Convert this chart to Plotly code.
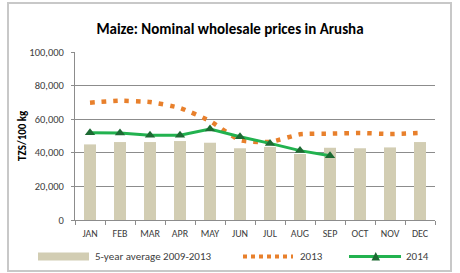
import plotly.graph_objects as go

months = ["JAN", "FEB", "MAR", "APR", "MAY", "JUN", "JUL", "AUG", "SEP", "OCT", "NOV", "DEC"]
avg_5yr = [45000, 46400, 46400, 47000, 46000, 42700, 43500, 39300, 43000, 42700, 43200, 46400]
p2013 = [69800, 71000, 70200, 66700, 58900, 47500, 46500, 51000, 51400, 51800, 51200, 51800]
p2014 = [52000, 51800, 50400, 50400, 54200, 49600, 45600, 41300, 38300]

FONT = "Carlito, Lato, sans-serif"
TXT = "#404040"
GRID = "#8c8c8c"

fig = go.Figure()
fig.add_trace(go.Bar(x=months, y=avg_5yr, width=0.4, marker=dict(color="#d2cdb3", line=dict(width=0)),
                     name="5-year average 2009-2013"))
fig.add_trace(go.Scatter(x=months, y=p2013, mode="lines", name="2013",
                         line=dict(color="#e8802c", width=4.5, dash="4.5px,7px", shape="spline", smoothing=0.5)))
fig.add_trace(go.Scatter(x=months[:len(p2014)], y=p2014, mode="lines+markers", name="2014",
                         line=dict(color="#22b24f", width=3),
                         marker=dict(symbol="triangle-up", size=9, color="#1d6a33")))

L, R, T, B = 75, 25, 52, 53
W, H = 460, 273
pw, ph = W - L - R, H - T - B

def px(x):
    return (x - L) / pw

def py(y):
    return (H - B - y) / ph

shapes = [
    dict(type="rect", xref="paper", yref="paper", x0=px(8), x1=px(451), y0=py(271), y1=py(3),
         line=dict(color="#c8c8c8", width=2), layer="below"),
    dict(type="rect", xref="paper", yref="paper", x0=px(38), x1=px(89), y0=py(260.5), y1=py(252.5),
         fillcolor="#d2cdb3", line=dict(width=0)),
    dict(type="line", xref="paper", yref="paper", x0=px(243), x1=px(293), y0=py(256.5), y1=py(256.5),
         line=dict(color="#e8802c", width=4, dash="4px,4px")),
    dict(type="line", xref="paper", yref="paper", x0=px(349), x1=px(401), y0=py(256.5), y1=py(256.5),
         line=dict(color="#22b24f", width=3)),
    dict(type="path", xref="paper", yref="paper",
         path=f"M {px(371.5)} {py(260.5)} L {px(380)} {py(260.5)} L {px(375.75)} {py(252)} Z",
         fillcolor="#1d6a33", line=dict(width=0)),
]

annotations = [
    dict(text="TZS/100 kg", xref="paper", yref="paper", x=px(22), y=0.5, textangle=-90, showarrow=False,
         font=dict(family=FONT, size=11, color="#000000", weight="bold"), xanchor="center", yanchor="middle"),
    dict(text="5-year average 2009-2013", xref="paper", yref="paper", x=px(93), y=py(256.5), showarrow=False,
         xanchor="left", yanchor="middle", font=dict(family=FONT, size=11, color=TXT)),
    dict(text="2013", xref="paper", yref="paper", x=px(298), y=py(256.5), showarrow=False,
         xanchor="left", yanchor="middle", font=dict(family=FONT, size=11, color=TXT)),
    dict(text="2014", xref="paper", yref="paper", x=px(404), y=py(256.5), showarrow=False,
         xanchor="left", yanchor="middle", font=dict(family=FONT, size=11, color=TXT)),
]

fig.update_layout(
    width=W, height=H,
    margin=dict(l=L, r=R, t=T, b=B),
    paper_bgcolor="white", plot_bgcolor="white",
    showlegend=False,
    title=dict(text="<b>Maize: Nominal wholesale prices in Arusha</b>", x=0.5, xref="container", xanchor="center",
               y=(H - 29) / H, yref="container", yanchor="middle",
               font=dict(family=FONT, size=15, color="#000000")),
    shapes=shapes,
    annotations=annotations,
    bargap=0.6,
)
fig.update_xaxes(type="category", showline=True, linecolor=GRID, linewidth=1, ticks="outside", tickson="boundaries",
                 ticklen=4, tickcolor=GRID, showgrid=False, ticklabelstandoff=4, tickangle=0,
                 tickfont=dict(family=FONT, size=10, color=TXT), range=[-0.5, 11.5])
fig.update_yaxes(range=[0, 100000], dtick=20000, tickformat=",", showline=True, linecolor=GRID, linewidth=1,
                 ticks="outside", ticklen=3, tickcolor=GRID, gridcolor=GRID, gridwidth=1, zeroline=False,
                 ticklabelstandoff=5, tickfont=dict(family=FONT, size=10.5, color=TXT))

fig.write_html("out.html")
